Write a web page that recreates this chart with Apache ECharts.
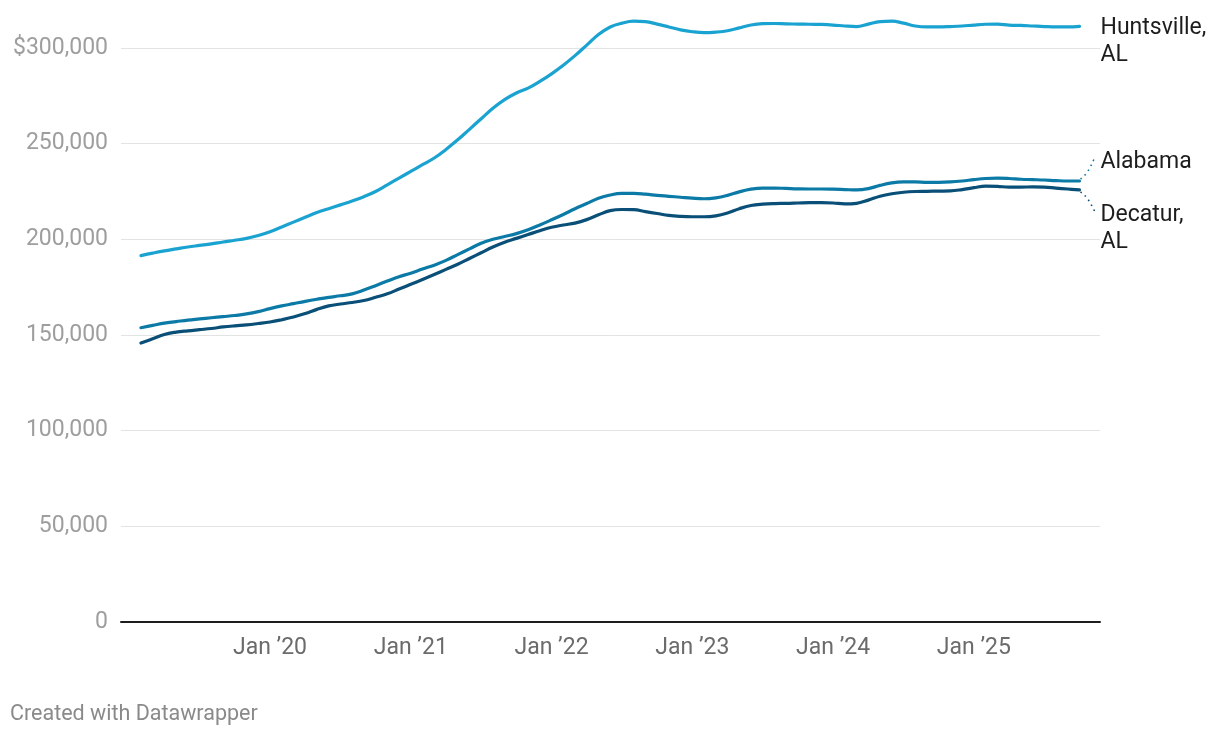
<!DOCTYPE html>
<html>
<head>
<meta charset="utf-8">
<script src="https://cdn.jsdelivr.net/npm/echarts@6/dist/echarts.min.js"></script>
<style>
  html, body { margin: 0; padding: 0; background: #fff; }
  #chart { width: 1220px; height: 738px; }
</style>
</head>
<body>
<div id="chart"></div>
<script>
// Monthly values, Feb 2019 – Oct 2025 (in thousands of dollars)
const startYear = 2019;
const startMonth = 2; // February
const huntsville = [
  191.5, 192.8, 194, 195, 196, 196.8, 197.6, 198.6, 199.5, 200.5, 202,
  204, 206.5, 209, 211.5, 214, 216, 218, 220, 222.3, 225, 228.5, 232,
  235.5, 239, 242.5, 247, 252, 257.5, 263, 268.5, 273, 276.5, 279, 282.5,
  286.5, 291, 296, 301.5, 307, 311, 313, 314, 313.8, 312.5, 311, 309.5,
  308.5, 308, 308.3, 309, 310.5, 312, 312.7, 312.8, 312.6, 312.5, 312.4, 312.3,
  312, 311.5, 311.2, 312.5, 313.8, 314, 313, 311.5, 311, 311, 311.2, 311.5,
  312, 312.4, 312.5, 312, 311.8, 311.5, 311.2, 311, 311, 311.3
];
const alabama = [
  153.8, 155, 156.2, 157, 157.8, 158.4, 159, 159.6, 160.2, 161, 162.2,
  163.8, 165.2, 166.4, 167.6, 168.7, 169.7, 170.5, 171.5, 173.5, 175.8, 178.2, 180.5,
  182.3, 184.5, 186.5, 189, 192, 195, 198, 200, 201.5, 203, 205, 207.5,
  210.2, 213, 216, 218.7, 221.5, 223.2, 224, 224, 223.6, 223, 222.5, 222,
  221.5, 221.2, 221.7, 223, 224.8, 226.2, 226.8, 226.8, 226.6, 226.4, 226.3, 226.3,
  226.2, 226, 225.8, 226.5, 228.2, 229.5, 230, 230, 229.8, 229.8, 230, 230.5,
  231.2, 231.8, 232, 231.8, 231.4, 231.2, 231, 230.7, 230.5, 230.5
];
const decatur = [
  145.8, 148, 150.3, 151.5, 152.2, 152.8, 153.4, 154.2, 154.8, 155.3, 156,
  156.8, 158, 159.4, 161.2, 163.4, 165.2, 166.2, 167, 168, 169.7, 171.5, 174,
  176.5, 179, 181.6, 184.3, 187, 190, 193, 196, 198.5, 200.5, 202.5, 204.5,
  206.3, 207.5, 208.5, 210.3, 212.8, 215, 215.6, 215.5, 214.5, 213.5, 212.5, 212,
  211.8, 211.8, 212.3, 213.8, 216, 217.7, 218.4, 218.7, 218.8, 219, 219.2, 219.2,
  219, 218.5, 218.8, 220.5, 222.5, 223.8, 224.6, 225, 225.1, 225.2, 225.3, 226,
  227, 227.8, 227.7, 227.3, 227.3, 227.4, 227.3, 226.8, 226.3, 225.8
];
const seriesNames = ['Huntsville,\nAL', 'Alabama', 'Decatur,\nAL'];
const seriesColors = ['#1aa3d1', '#0b7aa6', '#0a4f77'];
const xTickYears = ['Jan \u201920', 'Jan \u201921', 'Jan \u201922', 'Jan \u201923', 'Jan \u201924', 'Jan \u201925'];

// x value = months since Jan 2019
const firstX = (startYear - 2019) * 12 + (startMonth - 1);
const toPairs = arr => arr.map((v, i) => [firstX + i, v * 1000]);
const tickX = xTickYears.map((_, i) => 12 * (i + 1));

const chart = echarts.init(document.getElementById('chart'), null, { renderer: 'canvas' });
const FONT = 'Roboto, "Noto Sans", sans-serif';

function mkSeries(idx, data, dy) {
  return {
    name: seriesNames[idx],
    type: 'line',
    data: data,
    smooth: 0.4,
    showSymbol: false,
    clip: false,
    lineStyle: { width: 3.2, color: seriesColors[idx], cap: 'round', join: 'round' },
    itemStyle: { color: seriesColors[idx] },
    endLabel: {
      show: true,
      formatter: seriesNames[idx],
      distance: 21,
      offset: [0, dy],
      color: '#1d1d1d',
      fontFamily: FONT,
      fontSize: 23,
      lineHeight: 27,
      align: 'left'
    },
    emphasis: { disabled: true },
    z: 3 - idx
  };
}

const footer = {
  type: 'text',
  left: 10,
  top: 704,
  style: { text: 'Created with Datawrapper', fill: '#8a8a8a', font: '21.5px ' + FONT }
};

const option = {
  animation: false,
  backgroundColor: '#ffffff',
  grid: { left: 121, right: 120, top: 48, bottom: 116, containLabel: false },
  xAxis: {
    type: 'value',
    min: -0.7,
    max: 82.75,
    axisLine: { show: true, onZero: false, lineStyle: { color: '#1d1d1d', width: 2 } },
    axisTick: { show: false },
    splitLine: { show: false },
    axisLabel: {
      show: true,
      customValues: tickX,
      formatter: v => xTickYears[Math.round(v / 12) - 1] || '',
      color: '#6b6b6b',
      fontFamily: FONT,
      fontSize: 23,
      margin: 15
    }
  },
  yAxis: {
    type: 'value',
    min: 0,
    max: 300000,
    interval: 50000,
    axisLine: { show: false },
    axisTick: { show: false },
    splitLine: { show: true, lineStyle: { color: '#e3e3e3', width: 1 } },
    axisLabel: {
      color: '#9e9e9e',
      fontFamily: FONT,
      fontSize: 23,
      margin: 13,
      formatter: v => {
        const s = v.toLocaleString('en-US');
        return v === 300000 ? '$' + s : s;
      }
    }
  },
  series: [
    mkSeries(0, toPairs(huntsville), 15),
    mkSeries(1, toPairs(alabama), -19),
    mkSeries(2, toPairs(decatur), 39)
  ],
  graphic: [footer]
};
chart.setOption(option);

// dotted connectors from line ends to their labels
const lastX = firstX + alabama.length - 1;
const pA = chart.convertToPixel({ gridIndex: 0 }, [lastX, alabama[alabama.length - 1] * 1000]);
const pD = chart.convertToPixel({ gridIndex: 0 }, [lastX, decatur[decatur.length - 1] * 1000]);
chart.setOption({
  graphic: [
    footer,
    {
      type: 'bezierCurve',
      shape: { x1: pA[0] + 1, y1: pA[1] - 2, cpx1: pA[0] + 8, cpy1: pA[1] - 6, x2: pA[0] + 15, y2: pA[1] - 23 },
      style: { stroke: seriesColors[1], lineWidth: 1.6, lineDash: [1.6, 4], fill: null },
      silent: true
    },
    {
      type: 'bezierCurve',
      shape: { x1: pD[0] + 1, y1: pD[1] + 2, cpx1: pD[0] + 8, cpy1: pD[1] + 6, x2: pD[0] + 15, y2: pD[1] + 21 },
      style: { stroke: seriesColors[2], lineWidth: 1.6, lineDash: [1.6, 4], fill: null },
      silent: true
    }
  ]
});
</script>
</body>
</html>
